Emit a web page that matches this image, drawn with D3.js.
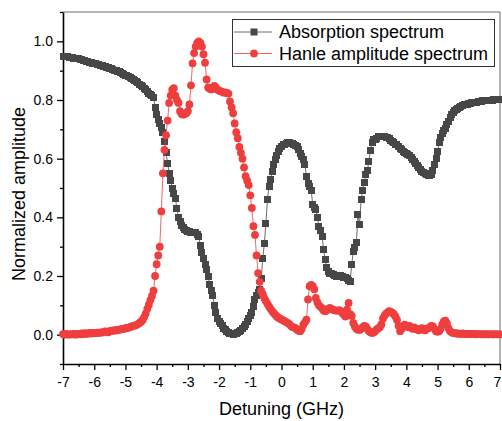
<!DOCTYPE html>
<html>
<head>
<meta charset="utf-8">
<script src="https://cdn.jsdelivr.net/npm/d3@7"></script>
<style>
  body { margin: 0; background: #fff; }
  text { font-family: "Liberation Sans", Arial, sans-serif; fill: #000; }
</style>
</head>
<body>
<svg id="chart" width="502" height="421"></svg>
<script>
// detuning grid (GHz): -7 .. 7, one sample every 0.05 GHz
const detuneStart = -7, detuneStep = 0.05;

// absorption spectrum, one row per GHz
const absorption = [
  0.950, 0.949, 0.948, 0.947, 0.946, 0.945, 0.944, 0.943, 0.942, 0.941, 0.940, 0.938, 0.937, 0.935, 0.934, 0.932, 0.930, 0.929, 0.927, 0.925,
  0.924, 0.923, 0.921, 0.920, 0.918, 0.917, 0.915, 0.913, 0.912, 0.910, 0.908, 0.906, 0.904, 0.902, 0.900, 0.898, 0.896, 0.893, 0.890, 0.888,
  0.885, 0.882, 0.879, 0.876, 0.873, 0.870, 0.866, 0.862, 0.858, 0.854, 0.850, 0.845, 0.840, 0.835, 0.829, 0.823, 0.818, 0.814, 0.808, 0.775,
  0.752, 0.735, 0.720, 0.705, 0.690, 0.660, 0.620, 0.585, 0.550, 0.525, 0.500, 0.482, 0.465, 0.430, 0.400, 0.385, 0.372, 0.365, 0.360, 0.356,
  0.353, 0.352, 0.350, 0.349, 0.348, 0.347, 0.343, 0.335, 0.305, 0.280, 0.260, 0.240, 0.222, 0.200, 0.170, 0.150, 0.132, 0.100, 0.075, 0.055,
  0.045, 0.038, 0.030, 0.022, 0.017, 0.012, 0.008, 0.005, 0.003, 0.002, 0.003, 0.005, 0.008, 0.011, 0.015, 0.020, 0.027, 0.036, 0.046, 0.055,
  0.065, 0.075, 0.095, 0.120, 0.135, 0.145, 0.155, 0.190, 0.260, 0.310, 0.380, 0.460, 0.505, 0.530, 0.555, 0.580, 0.598, 0.612, 0.625, 0.635,
  0.642, 0.647, 0.650, 0.652, 0.654, 0.654, 0.653, 0.651, 0.649, 0.645, 0.640, 0.630, 0.618, 0.608, 0.597, 0.580, 0.540, 0.515, 0.505, 0.492,
  0.445, 0.435, 0.428, 0.400, 0.370, 0.355, 0.335, 0.290, 0.255, 0.228, 0.215, 0.210, 0.207, 0.205, 0.203, 0.200, 0.199, 0.200, 0.201, 0.198,
  0.195, 0.196, 0.192, 0.186, 0.182, 0.240, 0.285, 0.296, 0.313, 0.410, 0.375, 0.462, 0.490, 0.520, 0.545, 0.560, 0.590, 0.628, 0.655, 0.665,
  0.665, 0.668, 0.674, 0.677, 0.677, 0.676, 0.674, 0.672, 0.671, 0.668, 0.663, 0.658, 0.654, 0.650, 0.647, 0.642, 0.636, 0.630, 0.626, 0.622,
  0.618, 0.614, 0.610, 0.604, 0.598, 0.592, 0.585, 0.578, 0.570, 0.563, 0.557, 0.552, 0.548, 0.545, 0.542, 0.541, 0.545, 0.560, 0.580, 0.600,
  0.625, 0.655, 0.672, 0.685, 0.695, 0.703, 0.715, 0.728, 0.740, 0.750, 0.757, 0.763, 0.768, 0.772, 0.776, 0.779, 0.781, 0.783, 0.784, 0.786,
  0.787, 0.788, 0.790, 0.791, 0.792, 0.793, 0.794, 0.795, 0.796, 0.797, 0.797, 0.798, 0.799, 0.799, 0.800, 0.800, 0.801, 0.801, 0.802, 0.802,
  0.802
];

// hanle amplitude spectrum, same grid
const hanle = [
  0.002, 0.000, 0.003, 0.001, 0.000, 0.002, 0.001, 0.003, 0.000, 0.002, 0.003, 0.001, 0.004, 0.002, 0.005, 0.003, 0.004, 0.006, 0.004, 0.005,
  0.006, 0.005, 0.007, 0.006, 0.008, 0.007, 0.009, 0.011, 0.010, 0.008, 0.012, 0.014, 0.013, 0.015, 0.014, 0.016, 0.017, 0.018, 0.020, 0.019,
  0.022, 0.023, 0.024, 0.026, 0.028, 0.030, 0.031, 0.033, 0.036, 0.040, 0.044, 0.050, 0.060, 0.072, 0.088, 0.102, 0.118, 0.132, 0.150, 0.200,
  0.240, 0.270, 0.300, 0.420, 0.550, 0.630, 0.680, 0.730, 0.790, 0.815, 0.835, 0.840, 0.815, 0.800, 0.790, 0.762, 0.752, 0.750, 0.752, 0.755,
  0.762, 0.785, 0.850, 0.925, 0.960, 0.982, 0.995, 1.000, 0.995, 0.982, 0.956, 0.927, 0.870, 0.843, 0.838, 0.836, 0.840, 0.848, 0.842, 0.835,
  0.832, 0.830, 0.828, 0.825, 0.826, 0.824, 0.822, 0.795, 0.775, 0.755, 0.720, 0.690, 0.670, 0.640, 0.620, 0.600, 0.570, 0.540, 0.525, 0.510,
  0.475, 0.432, 0.370, 0.340, 0.270, 0.210, 0.180, 0.150, 0.138, 0.124, 0.115, 0.105, 0.096, 0.088, 0.080, 0.074, 0.068, 0.062, 0.058, 0.055,
  0.052, 0.049, 0.046, 0.043, 0.040, 0.036, 0.030, 0.026, 0.025, 0.022, 0.017, 0.013, 0.012, 0.020, 0.034, 0.042, 0.051, 0.120, 0.165, 0.170,
  0.165, 0.155, 0.125, 0.110, 0.100, 0.095, 0.090, 0.082, 0.080, 0.083, 0.088, 0.091, 0.088, 0.085, 0.083, 0.082, 0.082, 0.084, 0.080, 0.074,
  0.068, 0.062, 0.085, 0.108, 0.070, 0.064, 0.040, 0.028, 0.020, 0.017, 0.016, 0.020, 0.025, 0.030, 0.028, 0.020, 0.012, 0.008, 0.006, 0.007,
  0.012, 0.018, 0.022, 0.025, 0.035, 0.055, 0.065, 0.072, 0.076, 0.080, 0.078, 0.075, 0.070, 0.062, 0.050, 0.030, 0.012, 0.020, 0.030, 0.034,
  0.028, 0.026, 0.030, 0.024, 0.020, 0.025, 0.020, 0.018, 0.015, 0.020, 0.022, 0.017, 0.015, 0.019, 0.022, 0.025, 0.030, 0.028, 0.020, 0.012,
  0.010, 0.012, 0.020, 0.035, 0.045, 0.048, 0.038, 0.022, 0.012, 0.008, 0.006, 0.005, 0.004, 0.004, 0.003, 0.003, 0.004, 0.003, 0.002, 0.003,
  0.003, 0.002, 0.002, 0.003, 0.002, 0.001, 0.002, 0.002, 0.001, 0.002, 0.001, 0.002, 0.001, 0.001, 0.002, 0.001, 0.001, 0.002, 0.001, 0.001,
  0.001
];

const seriesNames = ["Absorption spectrum", "Hanle amplitude spectrum"];
const xTicks = [-7, -6, -5, -4, -3, -2, -1, 0, 1, 2, 3, 4, 5, 6, 7];
const yTicks = [0.0, 0.2, 0.4, 0.6, 0.8, 1.0];

const grayColor = "#474747";
const redColor = "#ef3e3e";

const svg = d3.select("#chart");
const plotLeft = 63, plotRight = 500, plotTop = 12, plotBottom = 364;

const x = d3.scaleLinear().domain([-7, 7]).range([plotLeft, plotRight]);
const y = d3.scaleLinear().domain([-0.1, 1.1]).range([plotBottom, plotTop]);

const detuning = absorption.map((v, i) => +(detuneStart + i * detuneStep).toFixed(2));
const absData = absorption.map((v, i) => [detuning[i], v]);
const hanData = hanle.map((v, i) => [detuning[i], v]);

// frame (top and right)
svg.append("line").attr("x1", plotLeft).attr("x2", plotRight).attr("y1", plotTop).attr("y2", plotTop)
  .attr("stroke", "#6a6a6a").attr("stroke-width", 1);
svg.append("line").attr("x1", plotRight).attr("x2", plotRight).attr("y1", plotTop).attr("y2", plotBottom)
  .attr("stroke", "#6a6a6a").attr("stroke-width", 1);

// axes (plain hyphen for negatives, like the original)
const xMinor = d3.range(-6.5, 7, 1);
const yMinor = [-0.1, 0.1, 0.3, 0.5, 0.7, 0.9, 1.1];

const gx = svg.append("g").attr("transform", `translate(0,${plotBottom})`)
  .call(d3.axisBottom(x).tickValues(xTicks).tickFormat(d => String(d)).tickSize(6).tickSizeOuter(0));
svg.append("g").attr("transform", `translate(0,${plotBottom})`)
  .call(d3.axisBottom(x).tickValues(xMinor).tickFormat("").tickSize(3).tickSizeOuter(0))
  .select(".domain").remove();

const gy = svg.append("g").attr("transform", `translate(${plotLeft},0)`)
  .call(d3.axisLeft(y).tickValues(yTicks).tickFormat(d => d.toFixed(1)).tickSize(6).tickSizeOuter(0));
svg.append("g").attr("transform", `translate(${plotLeft},0)`)
  .call(d3.axisLeft(y).tickValues(yMinor).tickFormat("").tickSize(3).tickSizeOuter(0))
  .select(".domain").remove();

svg.selectAll(".domain").attr("stroke", "#000").attr("stroke-width", 1.6);
svg.selectAll(".tick line").attr("stroke", "#000").attr("stroke-width", 1.3);
gx.selectAll(".tick text").attr("font-size", 14).attr("dy", "1.0em")
  .style("font-family", "Liberation Sans, Arial, sans-serif");
// last label sits right at the window edge, nudge it inside
gx.selectAll(".tick text").filter(d => d === 7).attr("x", -3);
gy.selectAll(".tick text").attr("font-size", 14).attr("x", -10)
  .style("font-family", "Liberation Sans, Arial, sans-serif");

// axis titles
svg.append("text").attr("x", (plotLeft + plotRight) / 2).attr("y", 415)
  .attr("text-anchor", "middle").attr("font-size", 18).text("Detuning (GHz)");
svg.append("text").attr("transform", `translate(25,${(plotTop + plotBottom) / 2 + 6}) rotate(-90)`)
  .attr("text-anchor", "middle").attr("font-size", 18).text("Normalized amplitude");

// series
const line = d3.line().x(d => x(d[0])).y(d => y(d[1]));

svg.append("path").datum(absData).attr("d", line)
  .attr("fill", "none").attr("stroke", grayColor).attr("stroke-width", 0.8);
svg.selectAll("rect.abs").data(absData).join("rect")
  .attr("class", "abs")
  .attr("x", d => x(d[0]) - 3.5).attr("y", d => y(d[1]) - 3.5)
  .attr("width", 7).attr("height", 7)
  .attr("shape-rendering", "crispEdges")
  .attr("fill", grayColor);

svg.append("path").datum(hanData).attr("d", line)
  .attr("fill", "none").attr("stroke", redColor).attr("stroke-width", 0.8);
svg.selectAll("circle.han").data(hanData).join("circle")
  .attr("class", "han")
  .attr("cx", d => x(d[0])).attr("cy", d => y(d[1]))
  .attr("r", 3.9)
  .attr("fill", redColor);

// legend
const legend = svg.append("g");
legend.append("rect").attr("x", 232.5).attr("y", 19.5).attr("width", 262).attr("height", 47)
  .attr("fill", "#fff").attr("stroke", "#333").attr("stroke-width", 1);
const rows = [
  { name: seriesNames[0], color: grayColor, shape: "square", y: 32 },
  { name: seriesNames[1], color: redColor, shape: "circle", y: 53.5 }
];
rows.forEach(r => {
  legend.append("line").attr("x1", 234).attr("x2", 272).attr("y1", r.y).attr("y2", r.y)
    .attr("stroke", r.color).attr("stroke-width", 0.8);
  if (r.shape === "square") {
    legend.append("rect").attr("x", 254 - 3.5).attr("y", r.y - 3.5)
      .attr("width", 7).attr("height", 7).attr("fill", r.color);
  } else {
    legend.append("circle").attr("cx", 254).attr("cy", r.y).attr("r", 3.9).attr("fill", r.color);
  }
  legend.append("text").attr("x", 279).attr("y", r.y + 6.3)
    .attr("font-size", 18).text(r.name);
});
</script>
</body>
</html>
